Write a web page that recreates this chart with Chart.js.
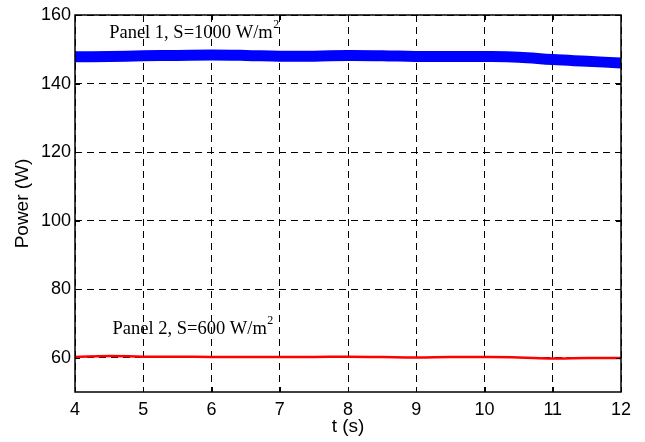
<!DOCTYPE html>
<html>
<head>
<meta charset="utf-8">
<script src="https://cdn.jsdelivr.net/npm/chart.js@4/dist/chart.umd.min.js"></script>
<style>
  html, body { margin: 0; padding: 0; background: #ffffff; }
  #wrap { width: 645px; height: 442px; position: relative; }
</style>
</head>
<body>
<div id="wrap"><canvas id="c" width="645" height="442"></canvas></div>
<script>
// ---- data ----
const timeValues = [4, 4.5, 5, 5.5, 6, 6.5, 7, 7.5, 8, 8.5, 9, 9.5, 10, 10.5, 11, 11.5, 12];
const panel1Power = [147.8, 147.9, 148.1, 148.2, 148.3, 148.2, 148.0, 148.0, 148.2, 148.1, 147.9, 147.9, 147.9, 147.7, 147.0, 146.5, 146.0];
const panel2Power = [60.2, 60.5, 60.3, 60.3, 60.2, 60.2, 60.2, 60.2, 60.3, 60.2, 60.1, 60.2, 60.2, 60.1, 59.8, 59.9, 59.9];
const yTickValues = [60, 80, 100, 120, 140, 160];
const xTickValues = [4, 5, 6, 7, 8, 9, 10, 11, 12];
const seriesLabels = ['Panel 1, S=1000 W/m', 'Panel 2, S=600 W/m'];
const labelAnchors = [[4.5, 154.8], [4.55, 68.3]];

const toPoints = (ys) => timeValues.map((t, i) => ({ x: t, y: ys[i] }));

const framePlugin = {
  id: 'frame',
  afterDatasetsDraw(chart) {
    const { ctx, chartArea: a, scales } = chart;
    ctx.save();
    // inner tick marks
    ctx.strokeStyle = '#000';
    ctx.lineWidth = 1;
    ctx.beginPath();
    xTickValues.forEach(v => {
      const px = Math.round(scales.x.getPixelForValue(v)) + 0.5;
      ctx.moveTo(px, a.bottom); ctx.lineTo(px, a.bottom - 5);
      ctx.moveTo(px, a.top); ctx.lineTo(px, a.top + 5);
    });
    yTickValues.forEach(v => {
      const py = Math.round(scales.y.getPixelForValue(v)) + 0.5;
      ctx.moveTo(a.left, py); ctx.lineTo(a.left + 5, py);
      ctx.moveTo(a.right, py); ctx.lineTo(a.right - 5, py);
    });
    ctx.stroke();
    // frame
    ctx.lineWidth = 1.5;
    ctx.strokeRect(a.left, a.top, a.right - a.left, a.bottom - a.top);
    // annotations
    ctx.fillStyle = '#000';
    ctx.textBaseline = 'middle';
    seriesLabels.forEach((txt, i) => {
      const x = scales.x.getPixelForValue(labelAnchors[i][0]);
      const y = scales.y.getPixelForValue(labelAnchors[i][1]);
      ctx.font = '18.5px "Liberation Serif", "Times New Roman", serif';
      ctx.textAlign = 'left';
      ctx.fillText(txt, x, y);
      const w = ctx.measureText(txt).width;
      ctx.font = '12px "Liberation Serif", "Times New Roman", serif';
      ctx.fillText('2', x + w + 0.5, y - 8);
    });
    ctx.restore();
  }
};

new Chart(document.getElementById('c'), {
  type: 'line',
  data: {
    datasets: [
      {
        label: seriesLabels[0],
        data: toPoints(panel1Power),
        borderColor: '#0000ff',
        backgroundColor: '#0000ff',
        borderWidth: 11,
        pointRadius: 0,
        tension: 0.4,
        borderCapStyle: 'butt'
      },
      {
        label: seriesLabels[1],
        data: toPoints(panel2Power),
        borderColor: '#ff0000',
        backgroundColor: '#ff0000',
        borderWidth: 2.5,
        pointRadius: 0,
        tension: 0.4,
        borderCapStyle: 'butt'
      }
    ]
  },
  options: {
    responsive: false,
    animation: false,
    devicePixelRatio: 1,
    layout: { padding: { top: 15, right: 24, left: 0, bottom: 0 } },
    plugins: {
      legend: { display: false },
      tooltip: { enabled: false }
    },
    scales: {
      x: {
        type: 'linear',
        min: 4,
        max: 12,
        afterBuildTicks: (s) => { s.ticks = xTickValues.map(v => ({ value: v })); },
        afterFit: (s) => { s.height = 50; },
        ticks: {
          color: '#000',
          font: { family: '"Liberation Sans", Arial, sans-serif', size: 18 },
          padding: 7,
          maxRotation: 0
        },
        grid: { color: '#000', lineWidth: 1, drawTicks: false },
        border: { display: false, dash: [7, 5] },
        title: {
          display: true,
          text: 't (s)',
          color: '#000',
          font: { family: '"Liberation Sans", Arial, sans-serif', size: 19 },
          padding: { top: 0, bottom: 4 }
        }
      },
      y: {
        type: 'linear',
        min: 50,
        max: 160,
        afterBuildTicks: (s) => { s.ticks = yTickValues.map(v => ({ value: v })); },
        afterFit: (s) => { s.width = 75; },
        ticks: {
          color: '#000',
          font: { family: '"Liberation Sans", Arial, sans-serif', size: 18 },
          padding: 4
        },
        grid: { color: '#000', lineWidth: 1, drawTicks: false },
        border: { display: false, dash: [7, 5] },
        title: {
          display: true,
          text: 'Power (W)',
          color: '#000',
          font: { family: '"Liberation Sans", Arial, sans-serif', size: 19 },
          padding: { top: 11, bottom: 0 }
        }
      }
    }
  },
  plugins: [framePlugin]
});
</script>
</body>
</html>
